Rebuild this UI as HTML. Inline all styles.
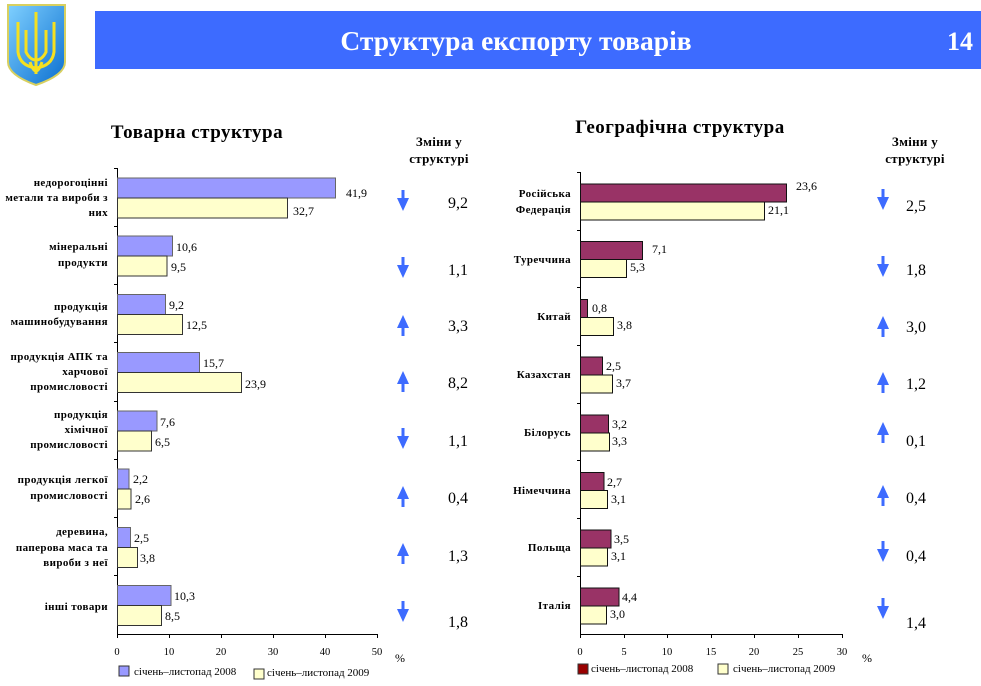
<!DOCTYPE html>
<html><head><meta charset="utf-8"><style>
body{margin:0;background:#fff;width:981px;height:686px;overflow:hidden}
svg{display:block}
text{font-family:"Liberation Serif",serif}
.c{font-size:11px;font-weight:bold;text-anchor:end;letter-spacing:0.4px}
.v{font-size:12px}
.t{font-size:10.5px;text-anchor:middle}
.ch{font-size:16px;text-anchor:middle}
.h{font-size:13px;font-weight:bold;text-anchor:middle;letter-spacing:0.3px}
</style></head><body>
<svg width="981" height="686" viewBox="0 0 981 686">
<defs>
<linearGradient id="sh" x1="0" y1="0" x2="1" y2="1"><stop offset="0" stop-color="#7fd0ff"/><stop offset="1" stop-color="#0b6fd0"/></linearGradient>
<g id="dn"><rect x="-1.5" y="-11" width="3" height="10" fill="#3d6bff"/><polygon points="-6,-3 6,-3 0,10" fill="#3d6bff"/></g>
<g id="up"><rect x="-1.5" y="1" width="3" height="10" fill="#3d6bff"/><polygon points="-6,3 6,3 0,-10" fill="#3d6bff"/></g>
</defs>
<path d="M8,5 H65 V62 Q65,75 36,85 Q8,75 8,62 Z" fill="url(#sh)" stroke="#d8d060" stroke-width="2"/>
<path d="M36,12 V74 M18,22 V52 Q20,66 36,68 Q52,66 54,52 V22 M26,30 V52 Q30,60 36,60 Q42,60 46,52 V30 M30,62 Q36,80 42,62" stroke="#f5e020" stroke-width="3" fill="none"/>
<rect x="95" y="11" width="886" height="58" fill="#3d6bff"/>
<text x="516" y="50" fill="#fff" font-size="27.5" font-weight="bold" text-anchor="middle">Структура експорту товарів</text>
<text x="960" y="50" fill="#fff" font-size="26" font-weight="bold" text-anchor="middle">14</text>

<text x="197" y="138" font-size="19" font-weight="bold" text-anchor="middle" letter-spacing="0.5">Товарна структура</text>
<text x="680" y="133" font-size="19" font-weight="bold" text-anchor="middle" letter-spacing="0.5">Географічна структура</text>
<text class="h" x="439" y="146">Зміни у</text><text class="h" x="439" y="163">структурі</text>
<text class="h" x="915" y="146">Зміни у</text><text class="h" x="915" y="163">структурі</text>

<g stroke="#000" stroke-width="1">
<line x1="117.5" y1="168" x2="117.5" y2="634"/>
<line x1="117" y1="634.5" x2="377" y2="634.5"/>
<line x1="114" y1="168.5" x2="117" y2="168.5"/><line x1="114" y1="226.5" x2="117" y2="226.5"/><line x1="114" y1="284.5" x2="117" y2="284.5"/><line x1="114" y1="342.5" x2="117" y2="342.5"/><line x1="114" y1="401.5" x2="117" y2="401.5"/><line x1="114" y1="459.5" x2="117" y2="459.5"/><line x1="114" y1="517.5" x2="117" y2="517.5"/><line x1="114" y1="575.5" x2="117" y2="575.5"/>
<line x1="117.5" y1="634" x2="117.5" y2="638"/><line x1="169.5" y1="634" x2="169.5" y2="638"/><line x1="221.5" y1="634" x2="221.5" y2="638"/><line x1="273.5" y1="634" x2="273.5" y2="638"/><line x1="325.5" y1="634" x2="325.5" y2="638"/><line x1="377.5" y1="634" x2="377.5" y2="638"/>
</g>
<g stroke="#666" stroke-width="1">
<rect x="117.5" y="178" width="218" height="20" fill="#9999ff"/>
<rect x="117.5" y="236" width="55" height="20" fill="#9999ff"/>
<rect x="117.5" y="294.5" width="48" height="20" fill="#9999ff"/>
<rect x="117.5" y="352.5" width="82" height="20" fill="#9999ff"/>
<rect x="117.5" y="411" width="39.5" height="20" fill="#9999ff"/>
<rect x="117.5" y="469" width="11.5" height="20" fill="#9999ff"/>
<rect x="117.5" y="527.5" width="13" height="20" fill="#9999ff"/>
<rect x="117.5" y="585.5" width="53.5" height="20" fill="#9999ff"/>
</g>
<g stroke="#333" stroke-width="1" fill="#ffffcc">
<rect x="117.5" y="198" width="170" height="20"/>
<rect x="117.5" y="256" width="49.5" height="20"/>
<rect x="117.5" y="314.5" width="65" height="20"/>
<rect x="117.5" y="372.5" width="124" height="20"/>
<rect x="117.5" y="431" width="34" height="20"/>
<rect x="117.5" y="489" width="13.5" height="20"/>
<rect x="117.5" y="547.5" width="20" height="20"/>
<rect x="117.5" y="605.5" width="44" height="20"/>
</g>
<g class="v">
<text x="346" y="197">41,9</text><text x="293" y="215">32,7</text>
<text x="176" y="251">10,6</text><text x="171" y="271">9,5</text>
<text x="169" y="309">9,2</text><text x="186" y="329">12,5</text>
<text x="203" y="367">15,7</text><text x="245" y="388">23,9</text>
<text x="160" y="426">7,6</text><text x="155" y="446">6,5</text>
<text x="133" y="483">2,2</text><text x="135" y="503">2,6</text>
<text x="134" y="542">2,5</text><text x="140" y="562">3,8</text>
<text x="174" y="600">10,3</text><text x="165" y="620">8,5</text>
</g>
<g class="c">
<text x="108" y="186">недорогоцінні</text><text x="108" y="201">метали та вироби з</text><text x="108" y="216">них</text>
<text x="108" y="250">мінеральні</text><text x="108" y="266">продукти</text>
<text x="108" y="310">продукція</text><text x="108" y="325">машинобудування</text>
<text x="108" y="360">продукція АПК та</text><text x="108" y="375">харчової</text><text x="108" y="390">промисловості</text>
<text x="108" y="418">продукція</text><text x="108" y="433">хімічної</text><text x="108" y="448">промисловості</text>
<text x="108" y="483">продукція легкої</text><text x="108" y="499">промисловості</text>
<text x="108" y="535">деревина,</text><text x="108" y="551">паперова маса та</text><text x="108" y="566">вироби з неї</text>
<text x="108" y="610">інші товари</text>
</g>
<g class="t">
<text x="117" y="655">0</text><text x="169" y="655">10</text><text x="221" y="655">20</text><text x="273" y="655">30</text><text x="325" y="655">40</text><text x="377" y="655">50</text>
</g>
<text x="400" y="662" font-size="12" text-anchor="middle">%</text>
<rect x="119" y="666" width="10" height="10" fill="#9999ff" stroke="#333"/>
<text x="134" y="675" font-size="11">січень–листопад 2008</text>
<rect x="254" y="669" width="10" height="10" fill="#ffffcc" stroke="#333"/>
<text x="267" y="676" font-size="11">січень–листопад 2009</text>

<use href="#dn" x="403" y="201"/><use href="#dn" x="403" y="268"/><use href="#up" x="403" y="325"/><use href="#up" x="403" y="381"/><use href="#dn" x="403" y="439"/><use href="#up" x="403" y="496"/><use href="#up" x="403" y="553"/><use href="#dn" x="403" y="612"/>
<g class="ch">
<text x="458" y="208">9,2</text><text x="458" y="275">1,1</text><text x="458" y="331">3,3</text><text x="458" y="388">8,2</text><text x="458" y="446">1,1</text><text x="458" y="503">0,4</text><text x="458" y="561">1,3</text><text x="458" y="627">1,8</text>
</g>

<g stroke="#000" stroke-width="1">
<line x1="580.5" y1="172" x2="580.5" y2="634"/>
<line x1="580" y1="634.5" x2="842" y2="634.5"/>
<line x1="577" y1="172.5" x2="580" y2="172.5"/><line x1="577" y1="230.5" x2="580" y2="230.5"/><line x1="577" y1="287.5" x2="580" y2="287.5"/><line x1="577" y1="345.5" x2="580" y2="345.5"/><line x1="577" y1="403.5" x2="580" y2="403.5"/><line x1="577" y1="460.5" x2="580" y2="460.5"/><line x1="577" y1="518.5" x2="580" y2="518.5"/><line x1="577" y1="576.5" x2="580" y2="576.5"/>
<line x1="580.5" y1="634" x2="580.5" y2="638"/><line x1="624.5" y1="634" x2="624.5" y2="638"/><line x1="667.5" y1="634" x2="667.5" y2="638"/><line x1="711.5" y1="634" x2="711.5" y2="638"/><line x1="754.5" y1="634" x2="754.5" y2="638"/><line x1="798.5" y1="634" x2="798.5" y2="638"/><line x1="842.5" y1="634" x2="842.5" y2="638"/>
</g>
<g stroke="#111" stroke-width="1" fill="#993366">
<rect x="580.5" y="184" width="206" height="18"/>
<rect x="580.5" y="241.5" width="62" height="18"/>
<rect x="580.5" y="299.5" width="7" height="18"/>
<rect x="580.5" y="357" width="22" height="18"/>
<rect x="580.5" y="415" width="28" height="18"/>
<rect x="580.5" y="472.5" width="23.5" height="18"/>
<rect x="580.5" y="530" width="30.5" height="18"/>
<rect x="580.5" y="588" width="38.5" height="18"/>
</g>
<g stroke="#111" stroke-width="1" fill="#ffffcc">
<rect x="580.5" y="202" width="184" height="18"/>
<rect x="580.5" y="259.5" width="46" height="18"/>
<rect x="580.5" y="317.5" width="33" height="18"/>
<rect x="580.5" y="375" width="32" height="18"/>
<rect x="580.5" y="433" width="29" height="18"/>
<rect x="580.5" y="490.5" width="27" height="18"/>
<rect x="580.5" y="548" width="27" height="18"/>
<rect x="580.5" y="606" width="26" height="18"/>
</g>
<g class="v">
<text x="796" y="190">23,6</text><text x="768" y="214">21,1</text>
<text x="652" y="253">7,1</text><text x="630" y="271">5,3</text>
<text x="592" y="312">0,8</text><text x="617" y="329">3,8</text>
<text x="606" y="370">2,5</text><text x="616" y="387">3,7</text>
<text x="612" y="428">3,2</text><text x="612" y="445">3,3</text>
<text x="607" y="486">2,7</text><text x="611" y="503">3,1</text>
<text x="614" y="543">3,5</text><text x="611" y="560">3,1</text>
<text x="622" y="601">4,4</text><text x="610" y="618">3,0</text>
</g>
<g class="c">
<text x="571" y="197">Російська</text><text x="571" y="213">Федерація</text>
<text x="571" y="263">Туреччина</text>
<text x="571" y="320">Китай</text>
<text x="571" y="378">Казахстан</text>
<text x="571" y="436">Білорусь</text>
<text x="571" y="494">Німеччина</text>
<text x="571" y="551">Польща</text>
<text x="571" y="609">Італія</text>
</g>
<g class="t">
<text x="580" y="655">0</text><text x="624" y="655">5</text><text x="667" y="655">10</text><text x="711" y="655">15</text><text x="754" y="655">20</text><text x="798" y="655">25</text><text x="842" y="655">30</text>
</g>
<text x="867" y="662" font-size="12" text-anchor="middle">%</text>
<rect x="578" y="664" width="10" height="10" fill="#990000" stroke="#333"/>
<text x="591" y="672" font-size="11">січень–листопад 2008</text>
<rect x="718" y="664" width="10" height="10" fill="#ffffcc" stroke="#333"/>
<text x="733" y="672" font-size="11">січень–листопад 2009</text>

<use href="#dn" x="883" y="200"/><use href="#dn" x="883" y="267"/><use href="#up" x="883" y="326"/><use href="#up" x="883" y="382"/><use href="#up" x="883" y="432"/><use href="#up" x="883" y="495"/><use href="#dn" x="883" y="552"/><use href="#dn" x="883" y="609"/>
<g class="ch">
<text x="916" y="211">2,5</text><text x="916" y="275">1,8</text><text x="916" y="332">3,0</text><text x="916" y="389">1,2</text><text x="916" y="446">0,1</text><text x="916" y="503">0,4</text><text x="916" y="561">0,4</text><text x="916" y="628">1,4</text>
</g>
</svg>
</body></html>
